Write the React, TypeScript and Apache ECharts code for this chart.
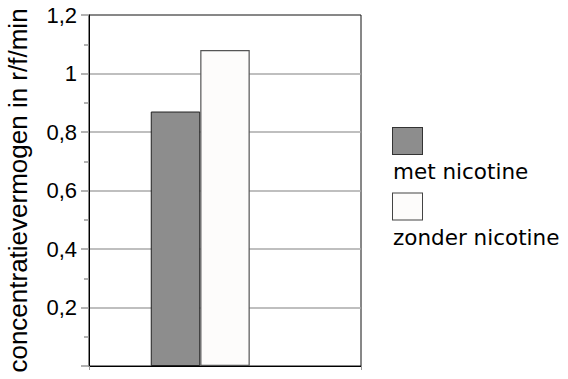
import React, { useEffect, useRef } from "react";
import * as echarts from "echarts";

const categories = [""];
const seriesNames = ["met nicotine", "zonder nicotine"];
const metNicotine = [0.87];
const zonderNicotine = [1.08];
const yTickLabels = ["", "0,2", "0,4", "0,6", "0,8", "1", "1,2"];
const yAxisName = "concentratievermogen in r/f/min";

export default function App() {
  const ref = useRef<HTMLDivElement>(null);
  useEffect(() => {
    if (!ref.current) return;
    const chart = echarts.init(ref.current, undefined, { renderer: "svg" });
    const darkFill = "#8d8d8d";
    const lightFill = "#fdfcfb";
    chart.setOption({
      animation: false,
      backgroundColor: "#ffffff",
      grid: {
        left: 89,
        right: 207,
        top: 15,
        bottom: 13,
        show: true,
        borderColor: "#111",
        borderWidth: 1,
        backgroundColor: "transparent",
      },
      legend: {
        orient: "vertical",
        left: 382,
        top: 122,
        itemWidth: 0,
        itemHeight: 0,
        itemGap: 10,
        data: seriesNames,
        selectedMode: false,
        formatter: (name: string) =>
          (name === seriesNames[0] ? "{box0|}" : "{box1|}") + "\n{t|" + name + "}",
        textStyle: {
          rich: {
            box0: {
              width: 29,
              height: 26,
              backgroundColor: darkFill,
              borderColor: "#333",
              borderWidth: 1,
            },
            box1: {
              width: 29,
              height: 26,
              backgroundColor: lightFill,
              borderColor: "#444",
              borderWidth: 1,
            },
            t: {
              fontFamily: "DejaVu Sans",
              fontSize: 21.5,
              color: "#000",
              lineHeight: 35,
            },
          },
        },
      },
      xAxis: {
        type: "category",
        data: categories,
        axisLine: { lineStyle: { color: "#000", width: 1 } },
        axisTick: { show: true, length: 4, lineStyle: { color: "#999" } },
        axisLabel: { show: false },
      },
      yAxis: {
        type: "value",
        min: 0,
        max: 1.2,
        interval: 0.2,
        name: yAxisName,
        nameLocation: "middle",
        nameRotate: 90,
        nameGap: 58,
        nameTextStyle: {
          fontFamily: "Liberation Sans",
          fontSize: 26,
          color: "#000",
        },
        axisLine: { show: true, lineStyle: { color: "#000", width: 1 } },
        axisTick: { show: true, length: 8, lineStyle: { color: "#999", width: 1.5 } },
        minorTick: { show: true, splitNumber: 2, length: 5, lineStyle: { color: "#999", width: 1.5 } },
        axisLabel: {
          margin: 12,
          fontFamily: "Liberation Sans",
          fontSize: 22,
          color: "#000",
          formatter: (_v: number, i: number) => yTickLabels[i] ?? "",
        },
        splitLine: {
          show: true,
          showMinLine: false,
          showMaxLine: false,
          lineStyle: { color: "#aaa", width: 1.5 },
        },
      },
      series: [
        {
          name: seriesNames[0],
          type: "bar",
          data: metNicotine,
          barWidth: 49.5,
          barGap: "0%",
          itemStyle: { color: darkFill, borderColor: "#222", borderWidth: 1 },
        },
        {
          name: seriesNames[1],
          type: "bar",
          data: zonderNicotine,
          barWidth: 49.5,
          barGap: "0%",
          itemStyle: { color: lightFill, borderColor: "#555", borderWidth: 1.2 },
        },
        {
          name: "spacer",
          type: "bar",
          data: [null],
          barWidth: 49.5,
          barGap: "0%",
          silent: true,
          itemStyle: { color: "transparent" },
        },
      ],
    });
    return () => chart.dispose();
  }, []);
  return (
    <div
      ref={ref}
      style={{ position: "fixed", left: 0, top: 0, width: 568, height: 379 }}
    />
  );
}
